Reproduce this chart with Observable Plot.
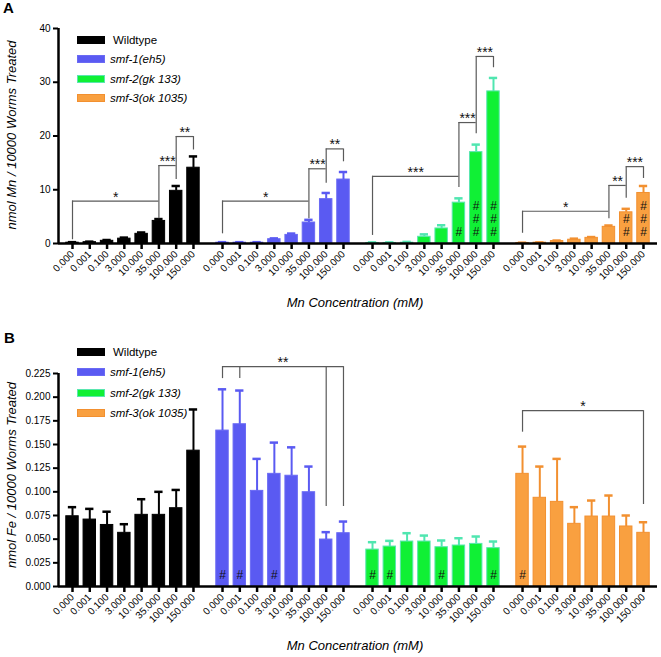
<!DOCTYPE html>
<html>
<head>
<meta charset="utf-8">
<script src="https://cdn.jsdelivr.net/npm/d3@7"></script>
<script src="https://cdn.jsdelivr.net/npm/@observablehq/plot@0.6"></script>
<style>
  html, body { margin: 0; padding: 0; background: #fff; }
  #wrap { position: relative; width: 661px; height: 657px; font-family: "Liberation Sans", Arial, sans-serif; color: #000; overflow: hidden; }
  .panel { position: absolute; left: 0; }
  .letter { position: absolute; font-weight: bold; font-size: 15px; }
  .xtitle { position: absolute; font-style: italic; font-size: 13px; transform: translateX(-50%); white-space: nowrap; }
  .ytitle { position: absolute; font-style: italic; font-size: 13px; transform: translate(-50%, -50%) rotate(-90deg); white-space: nowrap; }
  .leg { position: absolute; font-size: 11.5px; white-space: nowrap; display: flex; align-items: center; }
  .sw { width: 28px; height: 8px; margin-right: 5px; box-sizing: border-box; }
</style>
</head>
<body>
<div id="wrap"></div>
<script>
// ---------- data ----------
const concentrations = ["0.000", "0.001", "0.100", "3.000", "10.000", "35.000", "100.000", "150.000"];
const genotypes = ["Wildtype", "smf-1(eh5)", "smf-2(gk 133)", "smf-3(ok 1035)"];
const genotypeItalic = [false, true, true, true];
const fillColors = ["#000000", "#5a5af2", "#10f035", "#f9a040"];
const edgeColors = ["#000000", "#6a6af4", "#5ae6b0", "#f29030"];
const errColors = ["#000000", "#5a5af2", "#50e6b0", "#f29030"];

// Panel A: Mn (nmol / 10000 worms)
const mnWildtype    = [0.15, 0.25, 0.5, 0.9, 1.8, 4.2, 9.8, 14.1];
const mnWildtypeSem = [0.1, 0.1, 0.15, 0.2, 0.25, 0.35, 0.9, 2.1];
const mnSmf1        = [0.15, 0.15, 0.15, 0.8, 1.6, 3.9, 8.25, 11.9];
const mnSmf1Sem     = [0.1, 0.1, 0.1, 0.15, 0.25, 0.5, 1.15, 1.4];
const mnSmf2        = [0.1, 0.1, 0.15, 1.25, 2.8, 7.6, 17.0, 28.3];
const mnSmf2Sem     = [0.1, 0.1, 0.15, 0.45, 0.6, 0.8, 1.4, 2.5];
const mnSmf3        = [0.1, 0.15, 0.45, 0.7, 1.05, 3.1, 5.8, 9.4];
const mnSmf3Sem     = [0.05, 0.05, 0.1, 0.2, 0.15, 0.25, 0.65, 1.3];
const mnHashWildtype = [0, 0, 0, 0, 0, 0, 0, 0];
const mnHashSmf1     = [0, 0, 0, 0, 0, 0, 0, 0];
const mnHashSmf2     = [0, 0, 0, 0, 0, 1, 3, 3];
const mnHashSmf3     = [0, 0, 0, 0, 0, 0, 2, 3];
const mnYTicks = [0, 10, 20, 30, 40];
// significance brackets: [genotype, from index, to index, level, label]
const mnBrackets = [
  [0, 0, 5, 7.9, "*"], [0, 5, 6, 14.5, "***"], [0, 6, 7, 19.9, "**"],
  [1, 0, 5, 7.9, "*"], [1, 5, 6, 13.9, "***"], [1, 6, 7, 17.6, "**"],
  [2, 0, 5, 12.5, "***"], [2, 5, 6, 22.5, "***"], [2, 6, 7, 34.8, "***"],
  [3, 0, 5, 6.0, "*"], [3, 5, 6, 10.8, "**"], [3, 6, 7, 14.3, "***"]
];
// bracket legs: [genotype, index, top, bottom]
const mnLegs = [
  [0, 0, 7.9, 0.7], [0, 5, 14.5, 4.6], [0, 6, 19.9, 11.9], [0, 7, 19.9, 17.4],
  [1, 0, 7.9, 1.8], [1, 5, 13.9, 4.6], [1, 6, 17.6, 11.2], [1, 7, 17.6, 15.2],
  [2, 0, 12.5, 1.5], [2, 5, 22.5, 10.4], [2, 6, 34.8, 20.4], [2, 7, 34.8, 32.7],
  [3, 0, 6.0, 1.9], [3, 5, 10.8, 4.6], [3, 6, 14.3, 8.4], [3, 7, 14.3, 12.1]
];

// Panel B: Fe (nmol / 10000 worms)
const feWildtype    = [0.0742, 0.0707, 0.065, 0.0567, 0.0757, 0.0757, 0.0827, 0.1435];
const feWildtypeSem = [0.0096, 0.0113, 0.014, 0.0091, 0.0165, 0.0243, 0.0193, 0.0435];
const feSmf1        = [0.1647, 0.1714, 0.101, 0.119, 0.117, 0.0996, 0.0496, 0.0563];
const feSmf1Sem     = [0.0436, 0.0356, 0.0338, 0.033, 0.030, 0.0271, 0.0078, 0.0123];
const feSmf2        = [0.039, 0.0422, 0.0475, 0.0475, 0.0415, 0.0433, 0.045, 0.0405];
const feSmf2Sem     = [0.0078, 0.006, 0.0088, 0.0063, 0.0071, 0.0077, 0.0078, 0.007];
const feSmf3        = [0.119, 0.0937, 0.0894, 0.0662, 0.0739, 0.0739, 0.0634, 0.0567];
const feSmf3Sem     = [0.0288, 0.033, 0.0454, 0.0176, 0.0169, 0.0222, 0.0116, 0.0112];
const feHashWildtype = [0, 0, 0, 0, 0, 0, 0, 0];
const feHashSmf1     = [1, 1, 0, 1, 0, 0, 0, 0];
const feHashSmf2     = [1, 1, 0, 0, 1, 0, 0, 1];
const feHashSmf3     = [1, 0, 0, 0, 0, 0, 0, 0];
const feYTicks = [0, 0.025, 0.05, 0.075, 0.1, 0.125, 0.15, 0.175, 0.2, 0.225];
const feBrackets = [[1, 0, 7, 0.2323, "**"], [3, 0, 7, 0.1858, "*"]];
const feLegs = [
  [1, 0, 0.2323, 0.2196], [1, 1, 0.2323, 0.2196], [1, 6, 0.2323, 0.0845], [1, 7, 0.2323, 0.0845],
  [3, 0, 0.1858, 0.163], [3, 7, 0.1858, 0.0866]
];

// ---------- layout helpers ----------
const groupStep = 8.68;   // slots between the first bars of two groups
const edgePad = 0.81;     // slots from frame edge to first / last bar centre
const pos = (g, i) => g * groupStep + i;
const xDomain = [-edgePad, pos(3, 7) + edgePad];
const tickPositions = [];
const tickLabel = new Map();
genotypes.forEach((_, g) => concentrations.forEach((c, i) => { tickPositions.push(pos(g, i)); tickLabel.set(pos(g, i), c); }));

function buildRows(means, sems, hashes) {
  const rows = [];
  means.forEach((m, g) => m.forEach((v, i) => rows.push({g, i, pos: pos(g, i), mean: v, top: v + sems[g][i], hash: hashes[g][i]})));
  return rows;
}

function panel({rows, brackets, legs, yMax, yTicks, yFormat, height, marginTop, marginBottom}) {
  const half = 0.36, cap = 0.24;
  const hashMarks = [0, 1, 2].map(k => Plot.text(rows.filter(d => d.hash > k), {
    x: "pos", y: 0, text: () => "#", dy: -11.5 - 13 * k, fontSize: 12, fill: "#111", lineAnchor: "middle"
  }));
  return Plot.plot({
    width: 661, height, marginLeft: 58, marginRight: 4, marginTop, marginBottom,
    x: {domain: xDomain, axis: null},
    y: {domain: [0, yMax], axis: null},
    color: {type: "identity"},
    style: {fontFamily: "'Liberation Sans', Arial, sans-serif", fontSize: "10px", background: "transparent", overflow: "visible"},
    marks: [
      Plot.rect(rows, {x1: d => d.pos - half, x2: d => d.pos + half, y1: 0, y2: "mean",
        fill: d => fillColors[d.g], stroke: d => edgeColors[d.g], strokeWidth: 1}),
      Plot.ruleX(rows, {x: "pos", y1: "mean", y2: "top", stroke: d => errColors[d.g], strokeWidth: 2}),
      Plot.ruleY(rows, {x1: d => d.pos - cap, x2: d => d.pos + cap, y: "top", stroke: d => errColors[d.g], strokeWidth: 2.5}),
      ...hashMarks,
      Plot.ruleY(brackets, {x1: d => pos(d[0], d[1]), x2: d => pos(d[0], d[2]), y: d => d[3], stroke: "#5a5a5a", strokeWidth: 1.2}),
      Plot.ruleX(legs, {x: d => pos(d[0], d[1]), y1: d => d[2], y2: d => d[3], stroke: "#5a5a5a", strokeWidth: 1.2}),
      Plot.text(brackets, {x: d => (pos(d[0], d[1]) + pos(d[0], d[2])) / 2, y: d => d[3], text: d => d[4],
        dy: -4, fontSize: 14, lineAnchor: "middle", fill: "#111"}),
      Plot.ruleY([0], {stroke: "#000", strokeWidth: 2.5}),
      Plot.ruleX([xDomain[0]], {y1: 0, y2: yMax, stroke: "#000", strokeWidth: 2.5}),
      Plot.axisY({ticks: yTicks, tickFormat: yFormat, tickSize: 5, tickPadding: 3, strokeWidth: 2, fontSize: 10, label: null}),
      Plot.axisX({ticks: tickPositions, tickFormat: d => tickLabel.get(d), tickRotate: -45, tickSize: 6, tickPadding: 3,
        strokeWidth: 2.5, fontSize: 10, label: null})
    ]
  });
}

const wrap = document.getElementById("wrap");
function add(el, top) { const d = document.createElement("div"); d.className = "panel"; d.style.top = top + "px"; d.appendChild(el); wrap.appendChild(d); }

add(panel({
  rows: buildRows([mnWildtype, mnSmf1, mnSmf2, mnSmf3], [mnWildtypeSem, mnSmf1Sem, mnSmf2Sem, mnSmf3Sem],
                  [mnHashWildtype, mnHashSmf1, mnHashSmf2, mnHashSmf3]),
  brackets: mnBrackets, legs: mnLegs, yMax: 40, yTicks: mnYTicks, yFormat: d3.format("d"),
  height: 330, marginTop: 28, marginBottom: 87
}), 0);

add(panel({
  rows: buildRows([feWildtype, feSmf1, feSmf2, feSmf3], [feWildtypeSem, feSmf1Sem, feSmf2Sem, feSmf3Sem],
                  [feHashWildtype, feHashSmf1, feHashSmf2, feHashSmf3]),
  brackets: feBrackets, legs: feLegs, yMax: 0.225, yTicks: feYTicks, yFormat: d3.format(".3f"),
  height: 327, marginTop: 43, marginBottom: 71
}), 330);

// ---------- text: letters, titles, legends ----------
function addText(cls, text, style) {
  const d = document.createElement("div"); d.className = cls; d.textContent = text;
  Object.assign(d.style, style); wrap.appendChild(d); return d;
}
addText("letter", "A", {left: "3px", top: "-1px"});
addText("letter", "B", {left: "4px", top: "329px"});
addText("xtitle", "Mn Concentration (mM)", {left: "355px", top: "295px"});
addText("xtitle", "Mn Concentration (mM)", {left: "355px", top: "638px"});
addText("ytitle", "nmol Mn / 10000 Worms Treated", {left: "11px", top: "135px"});
addText("ytitle", "nmol Fe / 10000 Worms Treated", {left: "11px", top: "475px"});

function legend(rowsY) {
  genotypes.forEach((name, g) => {
    const row = document.createElement("div"); row.className = "leg";
    row.style.left = "77px"; row.style.top = (rowsY[g] - 7) + "px"; row.style.height = "14px";
    const sw = document.createElement("div"); sw.className = "sw";
    sw.style.background = fillColors[g]; sw.style.border = "1px solid " + edgeColors[g];
    if (g === 0) sw.style.marginRight = "8px";
    const t = document.createElement("span"); t.textContent = name;
    if (genotypeItalic[g]) t.style.fontStyle = "italic";
    row.appendChild(sw); row.appendChild(t); wrap.appendChild(row);
  });
}
legend([40, 59, 79, 98]);
legend([352, 372, 393, 413]);
</script>
</body>
</html>
